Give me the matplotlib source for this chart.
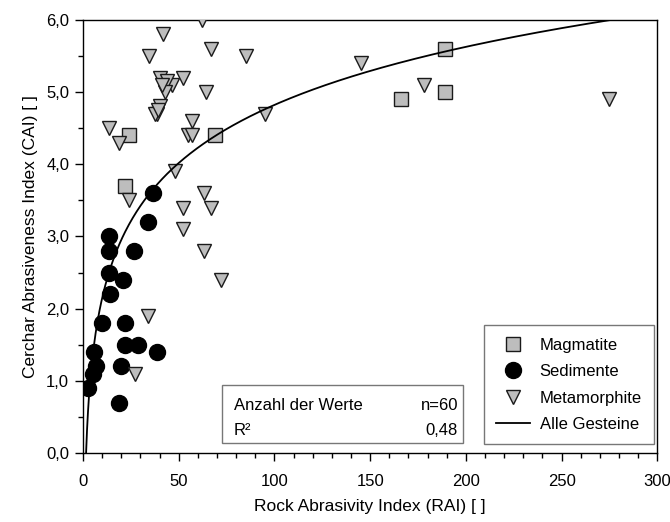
import numpy as np
import matplotlib
matplotlib.use("Agg")
import matplotlib.pyplot as plt
from matplotlib.ticker import MultipleLocator, FuncFormatter
from matplotlib.lines import Line2D
from matplotlib.patches import Rectangle

plt.rcParams['font.family'] = ['Liberation Sans', 'DejaVu Sans']

# Data (RAI, CAI)
mag_rai = [24, 22, 69, 166, 189, 189]
mag_cai = [4.4, 3.7, 4.4, 4.9, 5.0, 5.6]

sed_rai = [36.6, 34, 13.6, 13.6, 26.7, 13.6, 20.8, 14.1, 9.9, 21.9, 21.9, 28.7, 38.7,
           5.8, 6.6, 19.9, 5.3, 2.7, 18.8]
sed_cai = [3.6, 3.2, 3.0, 2.8, 2.8, 2.5, 2.4, 2.2, 1.8, 1.8, 1.5, 1.5, 1.4,
           1.4, 1.2, 1.2, 1.1, 0.9, 0.7]

met_rai = [62, 42, 67, 34.5, 85, 40, 52, 46.5, 44, 43, 64, 40, 38.5, 37.5, 57, 55, 57,
           48, 63, 52, 67, 52, 63, 72, 95, 145, 178, 275, 24, 34, 27, 13.5, 19, 41, 39]
met_cai = [6.0, 5.8, 5.6, 5.5, 5.5, 5.2, 5.2, 5.1, 5.15, 5.0, 5.0, 4.8, 4.7, 4.7, 4.6, 4.4, 4.4,
           3.9, 3.6, 3.4, 3.4, 3.1, 2.8, 2.4, 4.7, 5.4, 5.1, 4.9, 3.5, 1.9, 1.1, 4.5, 4.3, 5.1, 4.75]

# Logarithmic fit: CAI = a*ln(RAI) + b
fit_a = 1.16
fit_b = -0.52

legend_labels = ["Magmatite", "Sedimente", "Metamorphite", "Alle Gesteine"]
stats_labels = ["Anzahl der Werte", "R²"]
stats_values = ["n=60", "0,48"]

fig = plt.figure(figsize=(6.7, 5.22), dpi=100)
ax = fig.add_axes([0.124, 0.132, 0.857, 0.830])

gray = "#bdbdbd"
edge = "#1a1a1a"

ax.plot(mag_rai, mag_cai, ls='none', marker='s', ms=10.5, mfc=gray, mec=edge, mew=1.0, zorder=3)
ax.plot(sed_rai, sed_cai, ls='none', marker='o', ms=11.5, mfc='black', mec='black', mew=1.0, zorder=3)
ax.plot(met_rai, met_cai, ls='none', marker='v', ms=10, mfc=gray, mec=edge, mew=1.0, zorder=4)

xfit = np.linspace(np.exp(-fit_b / fit_a), 300, 600)
ax.plot(xfit, fit_a * np.log(xfit) + fit_b, color='black', lw=1.3, zorder=5)

ax.set_xlim(0, 300)
ax.set_ylim(0, 6)
ax.xaxis.set_major_locator(MultipleLocator(50))
ax.xaxis.set_minor_locator(MultipleLocator(10))
ax.yaxis.set_major_locator(MultipleLocator(1))
ax.yaxis.set_minor_locator(MultipleLocator(0.5))
ax.yaxis.set_major_formatter(FuncFormatter(lambda v, p: f"{v:.1f}".replace('.', ',')))
ax.tick_params(which='major', direction='out', length=6, width=1, labelsize=12)
ax.tick_params(axis='x', which='major', pad=9)
ax.tick_params(axis='y', which='major', pad=4)
ax.tick_params(which='minor', direction='out', length=3.5, width=1)
for s in ax.spines.values():
    s.set_linewidth(1.0)

ax.set_xlabel("Rock Abrasivity Index (RAI) [ ]", fontsize=12.5, labelpad=7)
ax.set_ylabel("Cerchar Abrasiveness Index (CAI) [ ]", fontsize=12.5, labelpad=6)

handles = [
    Line2D([], [], ls='none', marker='s', ms=10.5, mfc=gray, mec=edge),
    Line2D([], [], ls='none', marker='o', ms=11.5, mfc='black', mec='black'),
    Line2D([], [], ls='none', marker='v', ms=10, mfc=gray, mec=edge),
    Line2D([], [], color='black', lw=1.3),
]
leg = ax.legend(handles, legend_labels, loc='lower right', bbox_to_anchor=(0.995, 0.02),
                borderaxespad=0, fontsize=12, fancybox=False, framealpha=1,
                edgecolor='#777777', handlelength=2.0, labelspacing=0.68,
                borderpad=0.75, handletextpad=0.6)
leg.get_frame().set_linewidth(1.0)
leg.set_zorder(10)

ax.add_patch(Rectangle((0.242, 0.023), 0.42, 0.134, transform=ax.transAxes,
                       facecolor='white', edgecolor='#777777', lw=1.0, zorder=9))
ys = [0.111, 0.053]
for lab, val, y in zip(stats_labels, stats_values, ys):
    ax.text(0.263, y, lab, transform=ax.transAxes, fontsize=12, va='center', ha='left', zorder=11)
    ax.text(0.653, y, val, transform=ax.transAxes, fontsize=12, va='center', ha='right', zorder=11)

fig.savefig("out.png", dpi=100)
